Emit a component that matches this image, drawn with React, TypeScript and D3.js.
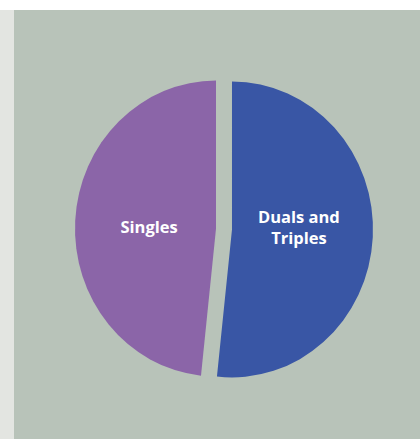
import React from "react";
import * as d3 from "d3";

const categories = ["Duals and Triples", "Singles"];
const values = [51.7, 48.3];
const labelLines = [["Duals and", "Triples"], ["Singles"]];
const colors = ["#3956a5", "#8b65a8"];

export default function App() {
  const W = 420, H = 439;
  const cx = 224, cy = 229;
  const rx = 141, ry = 148;
  const offset = 8;
  const pie = d3.pie<number>().sort(null).value((d) => d);
  const arcs = pie(values);
  const arc = d3.arc<d3.PieArcDatum<number>>().innerRadius(0).outerRadius(rx);
  const labelArc = d3.arc<d3.PieArcDatum<number>>().innerRadius(0).outerRadius(134);
  const sy = ry / rx;
  return (
    <div style={{ position: "absolute", left: 0, top: 0 }}>
      <svg width={W} height={H} style={{ display: "block" }}>
        <rect x={0} y={0} width={W} height={H} fill="#ffffff" />
        <rect x={0} y={10} width={14} height={H - 10} fill="#e3e5e1" />
        <rect x={14} y={10} width={W - 14} height={H - 10} fill="#b8c3b9" />
        <g transform={`translate(${cx},${cy})`}>
          {arcs.map((a, i) => {
            const mid = (a.startAngle + a.endAngle) / 2;
            const dx = offset * Math.sin(mid);
            const dy = -offset * Math.cos(mid);
            return (
              <g key={categories[i]} transform={`translate(${dx},${dy}) scale(1,${sy})`}>
                <path d={arc(a) || ""} fill={colors[i]} />
              </g>
            );
          })}
          {arcs.map((a, i) => {
            const mid = (a.startAngle + a.endAngle) / 2;
            const dx = offset * Math.sin(mid);
            const [lx] = labelArc.centroid(a);
            const lines = labelLines[i];
            const lh = 21;
            const startY = -((lines.length - 1) * lh) / 2 + 4;
            return (
              <text
                key={"t" + i}
                x={lx + dx}
                textAnchor="middle"
                fill="#ffffff"
                fontFamily="'Open Sans', sans-serif"
                fontWeight={700}
                fontSize={16.5}
              >
                {lines.map((t, j) => (
                  <tspan key={j} x={lx + dx} y={startY + j * lh}>
                    {t}
                  </tspan>
                ))}
              </text>
            );
          })}
        </g>
      </svg>
    </div>
  );
}
